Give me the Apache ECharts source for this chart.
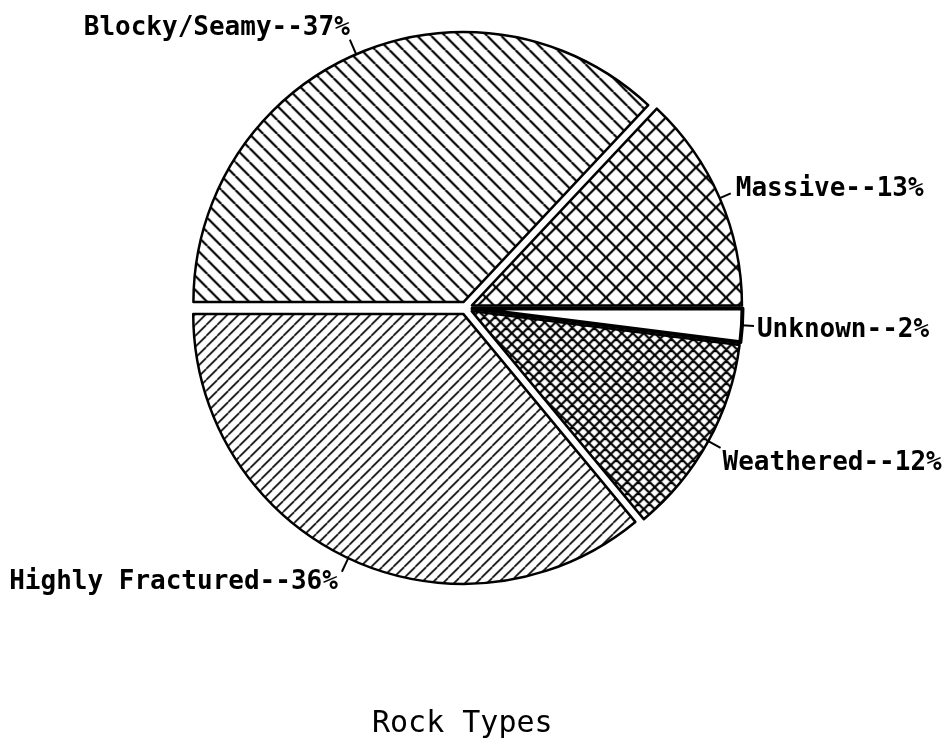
<!DOCTYPE html>
<html>
<head>
<meta charset="utf-8">
<title>Rock Types</title>
<script src="https://cdn.jsdelivr.net/npm/echarts@6/dist/echarts.min.js"></script>
<style>
    html, body { margin: 0; padding: 0; background: #fff; }
    #chart { width: 950px; height: 744px; }
</style>
</head>
<body>
<div id="chart"></div>
<script>
    // data
    var rockTypes = ['Blocky/Seamy', 'Massive', 'Unknown', 'Weathered', 'Highly Fractured'];
    var percents = [37, 13, 2, 12, 36];
    var chartTitle = 'Rock Types';

    // hatch fills, drawn on little tiles
    function hatch(period, width, kind) {
        var c = document.createElement('canvas');
        c.width = period;
        c.height = period;
        var ctx = c.getContext('2d');
        ctx.fillStyle = '#fff';
        ctx.fillRect(0, 0, period, period);
        ctx.strokeStyle = '#000';
        ctx.lineWidth = width;
        ctx.beginPath();
        for (var k = -1; k <= 1; k++) {
            if (kind === 'back' || kind === 'cross') {
                ctx.moveTo(k * period, 0);
                ctx.lineTo(k * period + period, period);
            }
            if (kind === 'fwd' || kind === 'cross') {
                ctx.moveTo(k * period, period);
                ctx.lineTo(k * period + period, 0);
            }
        }
        ctx.stroke();
        return { image: c, repeat: 'repeat' };
    }

    var fills = [
        hatch(14, 2.2, 'back'),
        hatch(20, 2.2, 'cross'),
        '#fff',
        hatch(11, 2.2, 'cross'),
        hatch(11, 1.6, 'fwd')
    ];
    // leader line lengths and label nudges per slice
    var lineLen = [16, 12, 12, 14, 15];
    var labelGap = [0, 5, 3, 2, 4];
    var labelDy = [-11, -4, 4, 15, 10];

    var chart = echarts.init(document.getElementById('chart'));
    chart.setOption({
        backgroundColor: '#fff',
        animation: false,
        title: {
            text: chartTitle,
            left: 372,
            top: 709,
            padding: 0,
            textStyle: {
                fontFamily: 'DejaVu Sans Mono',
                fontSize: 30,
                fontWeight: 'normal',
                color: '#000'
            }
        },
        series: [{
            type: 'pie',
            center: [466, 308],
            radius: [0, 270],
            startAngle: 180,
            clockwise: true,
            selectedMode: 'multiple',
            selectedOffset: 6.5,
            avoidLabelOverlap: false,
            emphasis: { disabled: true },
            itemStyle: {
                borderColor: '#000',
                borderWidth: 2.5
            },
            label: {
                show: true,
                position: 'outside',
                formatter: '{b}--{d}%',
                fontFamily: 'DejaVu Sans Mono',
                fontSize: 26,
                fontWeight: 'bold',
                color: '#000'
            },
            labelLine: {
                show: true,
                length2: 0,
                lineStyle: { color: '#000', width: 2 }
            },
            labelLayout: function (params) {
                return { dy: labelDy[params.dataIndex] };
            },
            data: rockTypes.map(function (name, i) {
                return {
                    name: name,
                    value: percents[i],
                    selected: true,
                    itemStyle: {
                        color: fills[i],
                        borderWidth: name === 'Unknown' ? 4 : 2.5
                    },
                    label: { distanceToLabelLine: labelGap[i] },
                    labelLine: { length: lineLen[i], length2: 0 }
                };
            })
        }]
    });
</script>
</body>
</html>
